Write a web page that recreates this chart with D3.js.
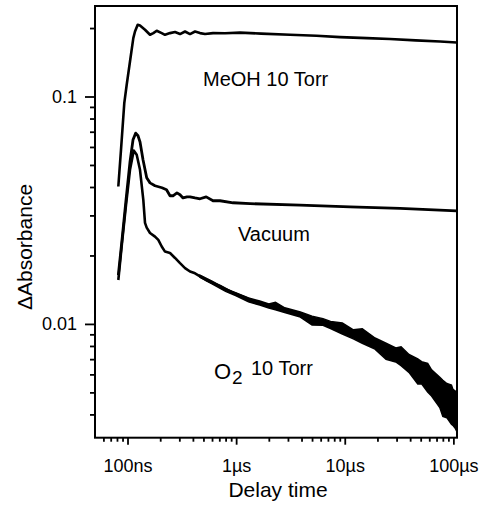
<!DOCTYPE html>
<html><head><meta charset="utf-8">
<script src="https://cdn.jsdelivr.net/npm/d3@7/dist/d3.min.js"></script>
<style>
body{margin:0;background:#fff}
svg{display:block}
text{font-family:"Liberation Sans",Arial,Helvetica,sans-serif;fill:#000}
</style>
</head><body>
<svg id="chart" width="489" height="515"></svg>
<script>
// ---- data (time in ns, ΔAbsorbance) ----
const meohTime  = [82.3, 87.1, 93.4, 98.3, 105.4, 113.1, 117.2, 124.1, 130.3, 144.9, 161.1, 172.9, 185.7, 206.5, 221.4, 246.2, 273.8, 304.4, 338.5, 376.3, 418.3, 465.2, 517.2, 612.8, 790, 1086, 1700, 3130, 5500, 9060, 16000, 26100, 45000, 75460, 107000];
const meohValue = [0.0402, 0.0583, 0.0935, 0.1126, 0.1426, 0.1807, 0.1931, 0.2068, 0.2053, 0.1966, 0.1868, 0.1900, 0.1945, 0.1900, 0.1868, 0.1900, 0.1920, 0.1882, 0.1931, 0.1882, 0.1931, 0.1900, 0.1882, 0.1900, 0.1896, 0.1910, 0.1890, 0.1868, 0.1850, 0.1825, 0.1805, 0.1789, 0.1765, 0.1746, 0.1728];

const vacTime  = [82.3, 89.0, 96.9, 105.4, 112.4, 119.0, 124.9, 130.3, 138.9, 150.2, 161.1, 179.1, 207.6, 228.7, 246.2, 262.1, 285.3, 304.4, 324.4, 353.3, 376.3, 418.3, 465.2, 530.4, 612.8, 711, 937, 1343, 3874, 11190, 32300, 107000];
const vacValue = [0.0164, 0.0234, 0.0351, 0.0516, 0.0645, 0.0690, 0.0672, 0.0632, 0.0527, 0.0439, 0.0417, 0.0405, 0.0397, 0.0389, 0.0366, 0.0366, 0.0377, 0.0370, 0.0358, 0.0362, 0.0362, 0.0358, 0.0355, 0.0362, 0.0348, 0.0348, 0.0341, 0.0338, 0.0333, 0.0327, 0.0322, 0.0314];

const o2Time  = [82.3, 89.0, 96.9, 105.4, 114.1, 121.5, 130.3, 139.8, 144.9, 150.2, 161.1, 179.1, 192.1, 206.5, 221.4, 246.2, 273.8, 304.4, 338.5, 376.3, 418.3, 465.2, 530.4, 616.6, 711, 937, 1343, 1913, 2721, 3874, 5524, 7852, 11190, 12900, 18340, 26130, 37230, 52950, 70330, 86950, 103700, 107000];
const o2Value = [0.0156, 0.0227, 0.0334, 0.0476, 0.0579, 0.0554, 0.0476, 0.0351, 0.0278, 0.0265, 0.0251, 0.0242, 0.0234, 0.0219, 0.0208, 0.0205, 0.0195, 0.0185, 0.0176, 0.0170, 0.0167, 0.0162, 0.0156, 0.0151, 0.0147, 0.0137, 0.0128, 0.0121, 0.0115, 0.0110, 0.0104, 0.0098, 0.0092, 0.0090, 0.0082, 0.0076, 0.0068, 0.0060, 0.0052, 0.0046, 0.0042, 0.0041];

// noisy envelope of the O2 trace (upper / lower edges of the noise)
const o2BandTime  = [465, 600, 800, 1000, 1300, 1650, 2000, 2300, 2800, 3900, 5000, 6300, 7400, 9500, 12000, 14500, 19000, 24000, 29500, 33000, 39000, 47000, 51000, 58000, 63000, 75000, 80000, 87000, 96000, 99000, 104000, 107000];
const o2BandUpper = [0.01637, 0.0154, 0.0143, 0.0137, 0.0130, 0.0126, 0.01225, 0.01244, 0.01177, 0.01128, 0.01082, 0.01055, 0.01026, 0.01009, 0.00942, 0.00953, 0.00867, 0.00823, 0.00784, 0.00794, 0.00734, 0.00701, 0.00682, 0.00670, 0.00628, 0.00582, 0.00565, 0.00547, 0.00538, 0.00516, 0.00507, 0.00497];
const o2BandLower = [0.01604, 0.0150, 0.0139, 0.0133, 0.0125, 0.0121, 0.01176, 0.01154, 0.01123, 0.01072, 0.00988, 0.00986, 0.00955, 0.00903, 0.00860, 0.00822, 0.00775, 0.00699, 0.00680, 0.00655, 0.00612, 0.00544, 0.00546, 0.00502, 0.00482, 0.00429, 0.00392, 0.00387, 0.00362, 0.00358, 0.00348, 0.00338];

const xTickValues = [100, 1000, 10000, 100000];
const xTickLabels = ["100ns", "1µs", "10µs", "100µs"];
const yTickValues = [0.01, 0.1];
const yTickLabels = ["0.01", "0.1"];

// ---- chart ----
const svg = d3.select("#chart");
const pLeft = 95, pRight = 457, pTop = 6, pBottom = 437.7;
const x = d3.scaleLog().domain([50.2, 108000]).range([pLeft, pRight]);
const y = d3.scaleLog().domain([0.00316, 0.25]).range([pBottom, pTop]);

// minor ticks
const xMinor = [];
[10, 100, 1000, 10000].forEach(d => { for (let m = 2; m <= 9; m++) { const v = d * m; if (v > 50.2 && v < 108000 && !xTickValues.includes(v)) xMinor.push(v); } });
const yMinor = [];
[0.001, 0.01, 0.1].forEach(d => { for (let m = 2; m <= 9; m++) { const v = +(d * m).toPrecision(3); if (v > 0.00316 && v < 0.25 && !yTickValues.includes(v)) yMinor.push(v); } });

const gx = svg.append("g").attr("transform", `translate(0,${pBottom})`);
gx.append("g").call(d3.axisBottom(x).tickValues(xMinor).tickSize(4).tickFormat(""));
gx.append("g").call(d3.axisBottom(x).tickValues(xTickValues).tickSize(7).tickPadding(15)
  .tickFormat((d, i) => xTickLabels[i]));
gx.selectAll(".domain").remove();
gx.selectAll("line").attr("stroke", "#000").attr("stroke-width", 1.8);
gx.selectAll("text").attr("font-size", 18).attr("fill", "#000");

const gy = svg.append("g").attr("transform", `translate(${pLeft},0)`);
gy.append("g").call(d3.axisLeft(y).tickValues(yMinor).tickSize(5).tickFormat(""));
gy.append("g").call(d3.axisLeft(y).tickValues(yTickValues).tickSize(10).tickPadding(8)
  .tickFormat((d, i) => yTickLabels[i]));
gy.selectAll(".domain").remove();
gy.selectAll("line").attr("stroke", "#000").attr("stroke-width", 1.8);
gy.selectAll("text").attr("font-size", 18).attr("fill", "#000");
svg.selectAll("g").attr("font-family", null);

// frame
svg.append("rect").attr("x", pLeft).attr("y", pTop).attr("width", pRight - pLeft).attr("height", pBottom - pTop)
  .attr("fill", "none").attr("stroke", "#000").attr("stroke-width", 2);

svg.append("clipPath").attr("id", "clip").append("rect")
  .attr("x", pLeft).attr("y", pTop).attr("width", pRight - pLeft).attr("height", pBottom - pTop);
const plot = svg.append("g").attr("clip-path", "url(#clip)");

const line = d3.line().x(d => x(d[0])).y(d => y(d[1]));
const series = [
  d3.zip(meohTime, meohValue),
  d3.zip(vacTime, vacValue),
  d3.zip(o2Time, o2Value)
];

const band = d3.area().x(d => x(d[0])).y0(d => y(d[2])).y1(d => y(d[1]));
plot.append("path").datum(d3.zip(o2BandTime, o2BandUpper, o2BandLower))
  .attr("d", band).attr("fill", "#000").attr("stroke", "#000").attr("stroke-width", 1.5)
  .attr("stroke-linejoin", "miter");

series.forEach((s, i) => {
  plot.append("path").datum(s).attr("d", line).attr("fill", "none")
    .attr("stroke", "#000").attr("stroke-width", i === 1 ? 2.8 : 2.6).attr("stroke-linejoin", "round");
});

// annotations
svg.append("text").attr("x", 203).attr("y", 86).attr("font-size", 20).text("MeOH 10 Torr");
svg.append("text").attr("x", 238).attr("y", 241).attr("font-size", 20).text("Vacuum");
const o2 = svg.append("text").attr("font-size", 20);
o2.append("tspan").attr("x", 214).attr("y", 379).attr("font-size", 22).text("O");
o2.append("tspan").attr("x", 232).attr("y", 384).attr("font-size", 19).text("2");
o2.append("tspan").attr("x", 251).attr("y", 375).text("10 Torr");

// axis titles
svg.append("text").attr("x", 278).attr("y", 497).attr("text-anchor", "middle").attr("font-size", 21).text("Delay time");
svg.append("text").attr("transform", "translate(32,247) rotate(-90)").attr("text-anchor", "middle")
  .attr("font-size", 21).text("ΔAbsorbance");
</script>
</body></html>
